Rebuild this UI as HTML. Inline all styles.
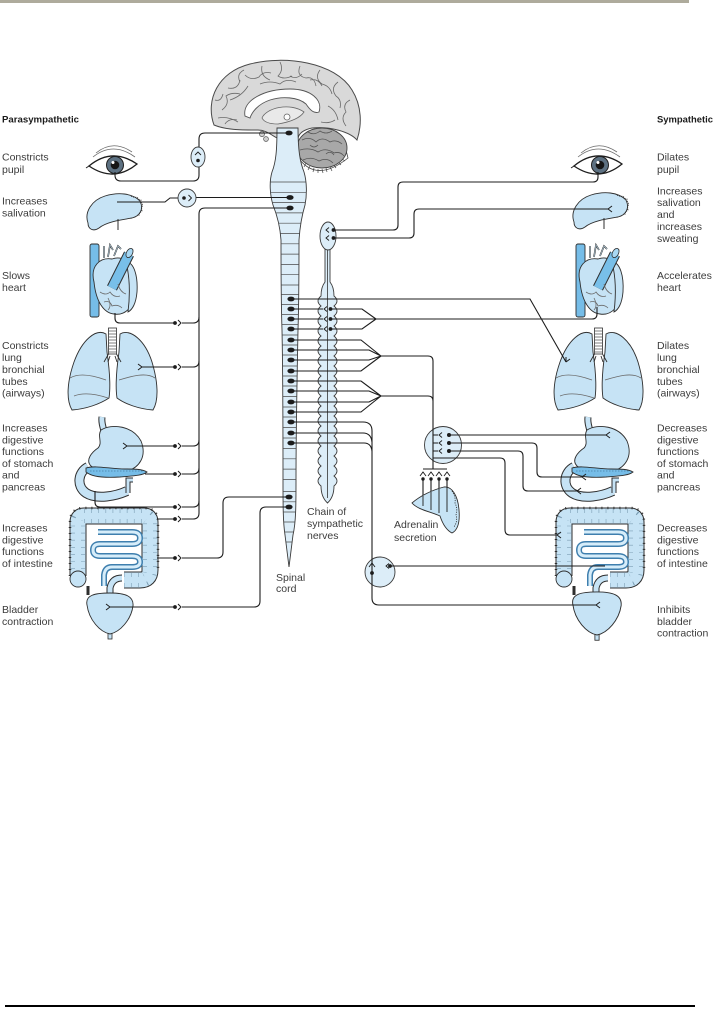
<!DOCTYPE html>
<html><head><meta charset="utf-8"><style>
html,body{margin:0;padding:0;background:#fff;}
svg{display:block;}
text{font-family:"Liberation Sans",sans-serif;font-size:10.5px;fill:#3c3c3c;}
.b{font-weight:bold;font-size:9.5px;fill:#1a1a1a;}
.ln{fill:none;stroke:#1c1c1c;stroke-width:1.1;}
.org{fill:#c6e3f5;stroke:#2e2e2e;stroke-width:0.9;}
.dk{fill:#76bde8;stroke:#2e2e2e;stroke-width:0.9;}
.gy{fill:none;stroke:#6a6a6a;stroke-width:0.8;}
</style></head><body>
<svg width="713" height="1009" viewBox="0 0 713 1009" xmlns="http://www.w3.org/2000/svg">
<defs>
<path id="cordp" d="M277,128 C277,150 276,162 272,172 C269,182 270,195 273,205 C277,215 280,225 281,240 C281,270 281,300 282,330 C283,380 283,430 283,480 C283,505 283,522 285,535 L289,567 L293,535 C296,522 296,505 296,480 C296,430 297,380 298,330 C299,300 299,270 299,240 C300,225 302,215 305,205 C307,195 307,182 304,172 C300,162 298,150 298,128 Z"/>
<clipPath id="cc"><use href="#cordp"/></clipPath>
<g id="fork"><path d="M0,0 L-4,-3 M0,0 L-4,3" fill="none" stroke="#1c1c1c" stroke-width="1"/></g>
<g id="forkR"><path d="M0,0 L4,-3 M0,0 L4,3" fill="none" stroke="#1c1c1c" stroke-width="1"/></g>
<g id="syn"><circle cx="0" cy="0" r="1.9" fill="#1c1c1c"/><path d="M3,-3 L6,0 L3,3" fill="none" stroke="#1c1c1c" stroke-width="1"/></g>

<g id="heart">
<rect x="90" y="244" width="9" height="73" rx="2" class="dk" fill="#7fc2ea"/>
<path class="org" d="M94,282 C90,266 100,257 112,259 C126,254 137,268 136,288 C136,305 126,316 114,314 C104,313 96,302 94,282 Z"/>
<path class="org" d="M126,262 C134,262 138,276 137,292 C136,304 132,310 128,312 C130,296 130,278 126,262 Z" fill="#d6ecf9"/>
<path d="M112,288 L129,254" stroke="#2e2e2e" stroke-width="11" stroke-linecap="butt"/>
<path d="M112,288 L129,254" stroke="#78bfe9" stroke-width="9"/>
<ellipse cx="129.5" cy="253" rx="5" ry="3" transform="rotate(-62 129.5 253)" fill="#a9d8f3" stroke="#2e2e2e" stroke-width="0.8"/>
<path d="M104,258 L104,246 M108,257 L110,245 L113,250 M114,256 L118,246 L121,249" fill="none" stroke="#2e2e2e" stroke-width="1.6"/>
<path d="M104,258 L104,246 M108,257 L110,245 L113,250 M114,256 L118,246 L121,249" fill="none" stroke="#c6e3f5" stroke-width="0.6"/>
<path d="M100,292 q6,4 10,0 q4,6 10,4 M104,302 q6,-2 8,4 q6,-2 10,2 M118,284 q2,8 8,10 M108,298 q4,8 0,12" class="gy" stroke="#2e4a5e"/>
</g>

<g id="lungs">
<path class="org" d="M106,334 C96,328 82,340 74,362 C67,382 66,400 72,410 C86,409 100,404 109,398 C111,385 109,366 107,352 Z"/>
<path class="org" d="M120,334 C130,328 145,340 152,362 C158,382 159,400 153,410 C139,409 125,404 117,398 C115,385 117,366 119,352 Z"/>
<path d="M70,378 C80,372 95,376 106,380 M74,396 C84,392 96,394 108,398 M155,378 C146,372 132,376 119,380" class="gy" stroke="#2e4a5e"/>
<rect x="108.5" y="328" width="8" height="26" fill="#fff" stroke="#2e2e2e" stroke-width="0.8"/>
<path d="M108.5,331 h8 M108.5,334 h8 M108.5,337 h8 M108.5,340 h8 M108.5,343 h8 M108.5,346 h8 M108.5,349 h8 M108.5,352 h8" stroke="#555" stroke-width="0.7"/>
<path d="M108.5,354 L104,362 M116.5,354 L121,362 M110,356 L108,362 M115,356 L117,362" stroke="#2e2e2e" stroke-width="0.9" fill="none"/>
</g>

<g id="stomach">
<path d="M102,417 C101,424 104,428 104,433" stroke="#2e2e2e" stroke-width="7" fill="none"/>
<path d="M102,417 C101,424 104,428 104,433" stroke="#c6e3f5" stroke-width="5" fill="none"/>
<path d="M88,467 C78,472 76,486 86,493 C97,500 116,496 127,491" stroke="#2e2e2e" stroke-width="10" fill="none"/>
<path d="M88,467 C78,472 76,486 86,493 C97,500 116,496 127,491" stroke="#c6e3f5" stroke-width="8" fill="none"/>
<path d="M128,493 V480 H133" stroke="#2e2e2e" stroke-width="5" fill="none"/>
<path d="M128,493 V480 H133" stroke="#c6e3f5" stroke-width="3" fill="none"/>
<path class="org" d="M101,430 C112,423 133,426 141,441 C147,456 140,468 125,472 C111,475 99,472 91,466 C85,460 92,452 98,448 C103,443 97,436 101,430 Z"/>
<path class="dk" d="M86,468 C96,465 110,469 125,469 C135,469 142,469 147,472 C142,476 131,476 120,477 C105,478 92,477 86,472 Z" fill="#79bde8"/>
<path d="M90,471 h54" stroke="#2f5f80" stroke-width="0.6" stroke-dasharray="1.5 1.5"/>
</g>

<g id="colon">
<path d="M78,576 V522 Q78,516 84,516 H144 Q150,516 150,522 V570 Q150,580 140,580 H124" stroke="#2e2e2e" stroke-width="17" fill="none"/>
<path d="M78,576 V522 Q78,516 84,516 H144 Q150,516 150,522 V570 Q150,580 140,580 H124" stroke="#c6e3f5" stroke-width="15" fill="none"/>
<path d="M78,576 V522 Q78,516 84,516 H144 Q150,516 150,522 V570 Q150,580 140,580 H124" stroke="#7d9fb5" stroke-width="14" fill="none" stroke-dasharray="0.6 6.5"/>
<path d="M78,576 V522 Q78,516 84,516 H144 Q150,516 150,522 V570 Q150,580 140,580 H124" stroke="#c6e3f5" stroke-width="6" fill="none"/>
<path d="M70,576 V522 Q70,508 84,508 H144 Q158,508 158,522 V570" stroke="#2e2e2e" stroke-width="2.5" fill="none" stroke-dasharray="1 5"/>
<circle cx="78" cy="579" r="8" class="org"/>
<path d="M122,578 Q112,578 110,588 V594" stroke="#2e2e2e" stroke-width="7" fill="none"/>
<path d="M122,578 Q112,578 110,588 V594" stroke="#c6e3f5" stroke-width="5" fill="none"/>
<path d="M88,586 V595" stroke="#2e2e2e" stroke-width="3" fill="none"/>
<path d="M98,532 H132 Q140,532 140,538 Q140,544 132,544 H100 Q93,544 93,550 Q93,556 100,556 H132 Q140,556 140,562 Q140,567 132,567 H112 Q105,567 104,575 V586" stroke="#3f7fae" stroke-width="6" fill="none"/>
<path d="M98,532 H132 Q140,532 140,538 Q140,544 132,544 H100 Q93,544 93,550 Q93,556 100,556 H132 Q140,556 140,562 Q140,567 132,567 H112 Q105,567 104,575 V586" stroke="#d6edfa" stroke-width="3" fill="none"/>
</g>

<g id="bladder">
<rect x="108" y="630" width="4" height="9" fill="#c6e3f5" stroke="#2e2e2e" stroke-width="0.8"/>
<path class="org" d="M87,605 C85,595 95,593 110,593 C125,593 134,596 133,606 C131,620 120,632 110,634 C100,632 89,620 87,605 Z"/>
</g>

<g id="gland">
<path class="org" d="M88,223 C84,212 92,200 105,196 C118,192 132,193 140,201 C144,209 140,216 132,218 C120,220 106,222 99,228 C93,232 88,229 88,223 Z"/>
<path d="M131,196 q3,2 6,1 q2,3 4,3 q0,3 2,5 q-2,3 -1,6 q-3,2 -3,5" fill="none" stroke="#2e2e2e" stroke-width="0.8" stroke-dasharray="1.2 1"/>
<path d="M118,219 V230" stroke="#2e2e2e" stroke-width="1"/>
</g>

<g id="eye">
<path d="M93,157 Q113,141 135,157" class="gy" stroke="#222"/>
<path d="M96,153 Q113,139 132,152" class="gy" stroke="#222"/>
<path d="M89,166 Q112,147 137,164 Q114,183 89,166 Z" fill="#fff" stroke="#1e1e1e" stroke-width="1.3"/>
<circle cx="115" cy="165" r="8.5" fill="#5d7182" stroke="#1e1e1e" stroke-width="1"/>
<circle cx="115" cy="165" r="4.3" fill="#151515"/>
<circle cx="113" cy="162.5" r="1.5" fill="#fff"/>
<path d="M89,166 L86,168" stroke="#1e1e1e" stroke-width="1"/>
</g>
</defs>

<!-- top and bottom rules -->
<rect x="0" y="0" width="689" height="3" fill="#aeab9c"/>
<rect x="5" y="1005" width="690" height="2" fill="#000"/>

<!-- labels -->
<text class="b" x="2" y="122.5" textLength="77" lengthAdjust="spacingAndGlyphs">Parasympathetic</text>
<text class="b" x="657" y="122.5" textLength="56" lengthAdjust="spacingAndGlyphs">Sympathetic</text>

<text x="2" y="160.5">Constricts</text><text x="2" y="172.8">pupil</text>
<text x="2" y="204.5">Increases</text><text x="2" y="216.5">salivation</text>
<text x="2" y="279">Slows</text><text x="2" y="291">heart</text>
<text x="2" y="348.8">Constricts</text><text x="2" y="360.8">lung</text><text x="2" y="372.8">bronchial</text><text x="2" y="384.8">tubes</text><text x="2" y="396.5">(airways)</text>
<text x="2" y="431.5">Increases</text><text x="2" y="443.3">digestive</text><text x="2" y="455.1">functions</text><text x="2" y="466.9">of stomach</text><text x="2" y="478.7">and</text><text x="2" y="490.5">pancreas</text>
<text x="2" y="531.5">Increases</text><text x="2" y="543.3">digestive</text><text x="2" y="555.1">functions</text><text x="2" y="566.9">of intestine</text>
<text x="2" y="612.8">Bladder</text><text x="2" y="624.8">contraction</text>

<text x="657" y="160.5">Dilates</text><text x="657" y="172.8">pupil</text>
<text x="657" y="194.5">Increases</text><text x="657" y="206">salivation</text><text x="657" y="218">and</text><text x="657" y="230">increases</text><text x="657" y="241.8">sweating</text>
<text x="657" y="279">Accelerates</text><text x="657" y="291">heart</text>
<text x="657" y="348.8">Dilates</text><text x="657" y="360.8">lung</text><text x="657" y="372.8">bronchial</text><text x="657" y="384.8">tubes</text><text x="657" y="396.5">(airways)</text>
<text x="657" y="431.5">Decreases</text><text x="657" y="443.3">digestive</text><text x="657" y="455.1">functions</text><text x="657" y="466.9">of stomach</text><text x="657" y="478.7">and</text><text x="657" y="490.5">pancreas</text>
<text x="657" y="531.5">Decreases</text><text x="657" y="543.3">digestive</text><text x="657" y="555.1">functions</text><text x="657" y="566.9">of intestine</text>
<text x="657" y="613">Inhibits</text><text x="657" y="624.8">bladder</text><text x="657" y="636.5">contraction</text>

<text x="307" y="515">Chain of</text><text x="307" y="527">sympathetic</text><text x="307" y="539">nerves</text>
<text x="394" y="528">Adrenalin</text><text x="394" y="541">secretion</text>
<text x="276" y="581">Spinal</text><text x="276" y="592">cord</text>

<!-- organs left -->
<use href="#eye"/>
<use href="#gland"/>
<use href="#heart"/>
<use href="#lungs"/>
<use href="#stomach"/>
<use href="#colon"/>
<use href="#bladder"/>
<!-- organs right -->
<use href="#eye" transform="translate(485,0)"/>
<use href="#gland" transform="translate(486,-1)"/>
<use href="#heart" transform="translate(486,0)"/>
<use href="#lungs" transform="translate(486,0)"/>
<use href="#stomach" transform="translate(486,0)"/>
<use href="#colon" transform="translate(486,0)"/>
<use href="#bladder" transform="translate(487,0) translate(110,614) scale(1.05) translate(-110,-614)"/>

<!-- brain -->
<path d="M214,125 C205,100 218,72 250,64 C285,55 335,62 352,90 C362,106 362,125 357,140 C350,132 330,126 312,128 C302,130 299,134 298,138 L277,138 C270,134 265,130 258,130 C240,130 226,130 214,125 Z" fill="#d9d9d9" stroke="#4a4a4a" stroke-width="1"/>
<path d="M222,110 q8,-6 4,-14 q6,-4 14,-2 M228,88 q10,2 12,-8 M245,75 q6,6 14,2 q4,-6 12,-4 M262,66 q-2,10 8,14 M280,62 q4,8 -2,14 q6,4 14,0 M300,66 q-4,10 6,12 q8,-2 10,8 M320,70 q-6,8 2,14 q8,2 10,10 M338,82 q-8,6 -2,14 q6,4 4,12 M350,100 q-8,4 -4,12 q-6,6 0,14 M230,100 q12,-4 18,-14 M218,118 q10,-2 20,4 M260,84 q10,-4 20,0 q6,-6 16,-2 M328,106 q8,4 10,14 M335,120 q-6,4 -14,2 M215,100 q6,2 8,-6 M240,82 q-4,-8 4,-12 M310,80 q8,-2 12,6 M290,76 q6,4 12,-2 M225,124 q4,-6 12,-4" class="gy"/>
<path d="M245,116 C242,100 265,89 290,89 C311,89 323,100 319,112 C314,114 310,110 306,104 C298,97 282,96 270,100 C258,104 252,112 250,118 Z" fill="#fff" stroke="#555" stroke-width="0.9"/>
<path d="M262,118 C266,108 290,102 304,112 C300,118 290,122 278,124 C270,124 264,122 262,118 Z" fill="#e9e9e9" stroke="#666" stroke-width="0.8"/>
<circle cx="287" cy="117" r="3" fill="#fff" stroke="#666" stroke-width="0.8"/>
<circle cx="262" cy="134" r="2.6" fill="#d0d0d0" stroke="#555" stroke-width="0.7"/>
<circle cx="266" cy="139" r="2.4" fill="#d0d0d0" stroke="#555" stroke-width="0.7"/>
<path d="M300,160 Q318,182 348,158 L346,150 Q322,172 302,154 Z" fill="#fff" stroke="#444" stroke-width="0.8"/>
<path d="M306,163 l-2,4 M310,166 l-2,4 M314,168 l-1,4 M318,169 l0,4 M322,169 l1,4 M326,168 l1,4 M330,167 l2,4 M334,165 l2,3 M338,162 l3,3 M342,159 l3,2" stroke="#444" stroke-width="0.7"/>
<ellipse cx="322" cy="148" rx="25" ry="20" fill="#a8a8a8" stroke="#444" stroke-width="0.9"/>
<path d="M302,140 q8,-4 14,2 q6,-6 14,0 q6,-3 12,2 M300,150 q10,-3 18,2 q8,-5 16,1 q6,-2 10,3 M303,160 q8,-4 16,1 q8,-4 14,2 M308,132 q6,4 12,-1 q6,4 12,0 M310,145 q4,4 8,0 M326,154 q4,-4 8,1" fill="none" stroke="#555" stroke-width="0.8"/>

<!-- spinal cord -->
<use href="#cordp" fill="#dcedf8" stroke="#3a3a3a" stroke-width="0.9"/>
<g clip-path="url(#cc)" stroke="#4a4a4a" stroke-width="0.7">
<path d="M260,182H320M260,192.3H320M260,202.6H320M260,212.9H320M260,223.2H320M260,233.5H320M260,243.8H320M260,254.1H320M260,264.4H320M260,274.7H320M260,285H320M260,294.5H320M260,304.5H320M260,314.5H320M260,324.5H320M260,335H320M260,345H320M260,355H320M260,366H320M260,376H320M260,386H320M260,396.5H320M260,407H320M260,417H320M260,427.5H320M260,438H320M260,448.5H320M260,458.8H320M260,469.1H320M260,479.4H320M260,491.5H320M260,501.8H320M260,512H320M260,522H320M260,532H320M260,542H320"/>
</g>

<!-- chain of sympathetic -->
<path d="M325,249 V282 Q321,287 321,296 q-6,5 0,10 q-6,5 0,10 q-6,5 0,10 q-6,5 0,10 q-6,5 0,10 q-6,5 0,10 q-6,5 0,10 q-6,5 0,10 q-6,5 0,10 q-6,5 0,10 q-6,5 0,10 q-6,5 0,10 q-6,5 0,10 q-6,5 0,10 q-6,5 0,10 q-6,5 0,10 q-6,5 0,10 q-6,5 0,10 q-6,5 0,10 Q321,497 327.5,503 Q334,497 334,486 q6,-5 0,-10 q6,-5 0,-10 q6,-5 0,-10 q6,-5 0,-10 q6,-5 0,-10 q6,-5 0,-10 q6,-5 0,-10 q6,-5 0,-10 q6,-5 0,-10 q6,-5 0,-10 q6,-5 0,-10 q6,-5 0,-10 q6,-5 0,-10 q6,-5 0,-10 q6,-5 0,-10 q6,-5 0,-10 q6,-5 0,-10 q6,-5 0,-10 q6,-5 0,-10 Q334,287 330,282 V249 Z" fill="#dcedf8" stroke="#3a3a3a" stroke-width="0.9"/>
<path d="M327.5,250 V498" stroke="#333" stroke-width="0.8"/>
<ellipse cx="328" cy="236" rx="8" ry="14" fill="#dcedf8" stroke="#3a3a3a" stroke-width="0.9"/>

<!-- ganglia (drawn before lines) -->
<circle cx="443" cy="445" r="18.5" fill="#dcedf8" stroke="#3a3a3a" stroke-width="0.9"/>
<circle cx="380" cy="572" r="15" fill="#dcedf8" stroke="#3a3a3a" stroke-width="0.9"/>

<!-- parasympathetic lines -->
<g class="ln">
<path d="M289,133 H205 Q199,133 199,139 V175 Q199,181 193,181 H121 Q115,181 115,175 V172"/>
<path d="M289,197.5 H196 M178,198 H170 L165,202 H117"/>
<path d="M289,208 H205 Q199,208 199,214 V513 Q199,519 193,519 H182"/>
<path d="M193,323 Q199,323 199,317 M182,323 H193 M176,323 H120 Q115,323 115,318 V313"/>
<path d="M193,367 Q199,367 199,361 M182,367 H193 M176,367 H142"/>
<path d="M193,446 Q199,446 199,440 M182,446 H193 M176,446 H127"/>
<path d="M193,474 Q199,474 199,468 M182,474 H193 M176,474 H145"/>
<path d="M193,507 Q199,507 199,501 M182,507 H193 M176,507 H100 Q95,507 95,502 V491"/>
<path d="M176,519 H157"/>
<path d="M157,558 H176 M182,558 H217 Q223,558 223,552 V503 Q223,497 229,497 H289"/>
<path d="M110,607 H176 M182,607 H254 Q260,607 260,601 V513 Q260,507 266,507 H289"/>
</g>
<use href="#syn" x="175" y="323"/>
<use href="#syn" x="175" y="367"/>
<use href="#syn" x="175" y="446"/>
<use href="#syn" x="175" y="474"/>
<use href="#syn" x="175" y="507"/>
<use href="#syn" x="175" y="519"/>
<use href="#syn" x="175" y="558"/>
<use href="#syn" x="175" y="607"/>
<use href="#fork" x="142" y="367"/>
<use href="#fork" x="127" y="446"/>
<use href="#fork" x="110" y="607"/>

<!-- parasympathetic ganglia -->
<ellipse cx="198" cy="157" rx="7" ry="10" fill="#dcedf8" stroke="#3a3a3a" stroke-width="0.9"/>
<path d="M195,155 L198,152 L201,155" fill="none" stroke="#1c1c1c" stroke-width="0.9"/>
<circle cx="198" cy="160.5" r="1.8" fill="#1c1c1c"/>
<circle cx="187" cy="198" r="9" fill="#dcedf8" stroke="#3a3a3a" stroke-width="0.9"/>
<circle cx="184" cy="198" r="1.8" fill="#1c1c1c"/>
<path d="M188.5,195 L191.5,198 L188.5,201" fill="none" stroke="#1c1c1c" stroke-width="0.9"/>

<!-- sympathetic lines -->
<g class="ln">
<path d="M333,230 H393 Q398,230 398,225 V187 Q398,182 403,182 H593 Q598,182 598,177 V172"/>
<path d="M333,238 H409 Q414,238 414,233 V214 Q414,209 419,209 H608"/>
<path d="M292,299 H530 L566,362"/>
<path d="M292,309 H323 M292,319 H323 M292,329 H323"/>
<path d="M330,309 H362 L376,319 M330,329 H362 L376,319"/>
<path d="M330,319 H592 Q597,319 597,314 V307"/>
<path d="M292,340 H361 L381,356 M292,371 H361 L381,356 M292,350 H369 L381,356 M292,360 H369 L381,356"/>
<path d="M292,381 H361 L381,396 M292,412 H361 L381,396 M292,391 H369 L381,396 M292,402 H369 L381,396"/>
<path d="M381,356 H428 Q433,356 433,361 V469 M381,396 H428 Q433,396 433,401"/>
<path d="M433,435 H438 M433,443 H438 M433,451 H438"/>
<path d="M449,435 H606"/>
<path d="M449,443 H532 Q537,443 537,448 V472 Q537,477 542,477 H582"/>
<path d="M449,451 H518 Q523,451 523,456 V486 Q523,491 528,491 H577"/>
<path d="M433,458 H500 Q505,458 505,463 V530 Q505,535 510,535 H557"/>
<path d="M423,469 H447"/>
<path d="M423,479 V498 M431,479 V494 M439,479 V491 M447,479 V489"/>
<path d="M292,422 H363 Q372,422 372,431 V598 Q372,605 379,605 H596"/>
<path d="M292,433 H363 Q371,433 372,442"/>
<path d="M292,443 H364 Q371,443 372,451"/>
<path d="M389,566 H605"/>
</g>
<!-- chain synapses -->
<g fill="none" stroke="#1c1c1c" stroke-width="0.9">
<path d="M329,227.5 L326,230 L329,232.5 M329,235.5 L326,238 L329,240.5"/>
<path d="M327,306.5 L324,309 L327,311.5 M327,316.5 L324,319 L327,321.5 M327,326.5 L324,329 L327,331.5"/>
<path d="M442,432.5 L439,435 L442,437.5 M442,440.5 L439,443 L442,445.5 M442,448.5 L439,451 L442,453.5"/>
<path d="M420,476 L423,472 L426,476 M428,476 L431,472 L434,476 M436,476 L439,472 L442,476 M444,476 L447,472 L450,476"/>
<path d="M369,567 L372,563 L375,567"/>
<path d="M389,563.5 L386,566 L389,568.5"/>
</g>
<g fill="#1c1c1c">
<circle cx="333.5" cy="230" r="1.9"/><circle cx="333.5" cy="238" r="1.9"/>
<circle cx="330.5" cy="309" r="1.9"/><circle cx="330.5" cy="319" r="1.9"/><circle cx="330.5" cy="329" r="1.9"/>
<circle cx="449" cy="435" r="2"/><circle cx="449" cy="443" r="2"/><circle cx="449" cy="451" r="2"/>
<circle cx="423" cy="479" r="1.7"/><circle cx="431" cy="479" r="1.7"/><circle cx="439" cy="479" r="1.7"/><circle cx="447" cy="479" r="1.7"/>
<circle cx="372" cy="573" r="1.9"/><circle cx="390" cy="566" r="1.9"/>
</g>
<use href="#forkR" x="606" y="435"/>
<use href="#forkR" x="608" y="209"/>
<use href="#forkR" x="582" y="477"/>
<use href="#forkR" x="577" y="491"/>
<use href="#forkR" x="557" y="535"/>
<use href="#forkR" x="596" y="605"/>
<path d="M566,362 L566,357 M566,362 L570,359" stroke="#1c1c1c" stroke-width="1" fill="none"/>

<!-- adrenal gland -->
<path class="org" d="M412,503 C420,496 432,490 444,487 C452,486 458,496 459,510 C460,522 458,530 452,533 C446,530 442,522 440,516 C432,512 418,510 412,503 Z"/>
<path d="M452,491 q4,6 3,12 q3,6 1,12 q2,6 -2,12" fill="none" stroke="#2e2e2e" stroke-width="0.8" stroke-dasharray="1.2 1.2"/>
<path d="M423,496 V506 M431,492 V510 M439,489 V513 M447,487 V512" fill="none" stroke="#1c1c1c" stroke-width="0.9"/>

<!-- cord dots -->
<g fill="#1c1c1c">
<ellipse cx="289" cy="133" rx="3.6" ry="2.4"/>
<ellipse cx="290" cy="197.5" rx="3.6" ry="2.4"/>
<ellipse cx="290" cy="208" rx="3.6" ry="2.4"/>
<ellipse cx="291" cy="299" rx="3.6" ry="2.4"/>
<ellipse cx="291" cy="309" rx="3.6" ry="2.4"/>
<ellipse cx="291" cy="319" rx="3.6" ry="2.4"/>
<ellipse cx="291" cy="329" rx="3.6" ry="2.4"/>
<ellipse cx="291" cy="340" rx="3.6" ry="2.4"/>
<ellipse cx="291" cy="350" rx="3.6" ry="2.4"/>
<ellipse cx="291" cy="360" rx="3.6" ry="2.4"/>
<ellipse cx="291" cy="371" rx="3.6" ry="2.4"/>
<ellipse cx="291" cy="381" rx="3.6" ry="2.4"/>
<ellipse cx="291" cy="391" rx="3.6" ry="2.4"/>
<ellipse cx="291" cy="402" rx="3.6" ry="2.4"/>
<ellipse cx="291" cy="412" rx="3.6" ry="2.4"/>
<ellipse cx="291" cy="422" rx="3.6" ry="2.4"/>
<ellipse cx="291" cy="433" rx="3.6" ry="2.4"/>
<ellipse cx="291" cy="443" rx="3.6" ry="2.4"/>
<ellipse cx="289" cy="497" rx="3.6" ry="2.4"/>
<ellipse cx="289" cy="507" rx="3.6" ry="2.4"/>
</g>
</svg>
</body></html>
